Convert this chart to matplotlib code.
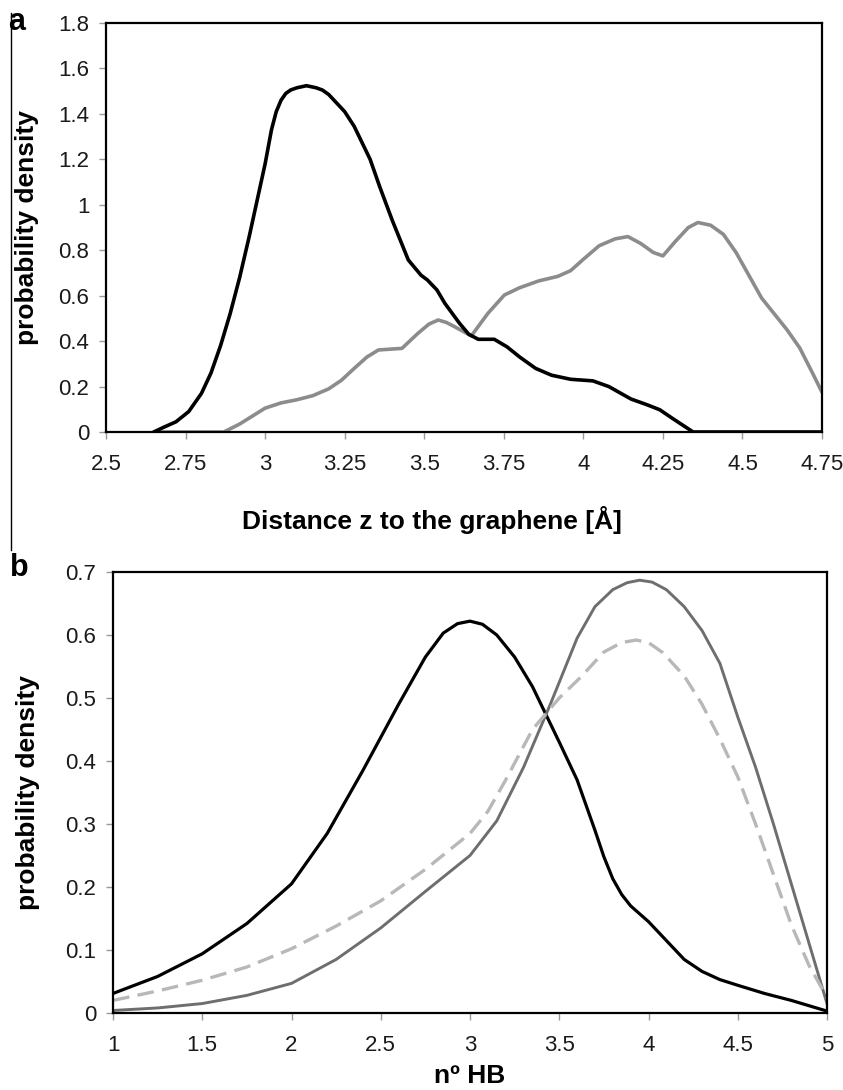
import matplotlib
matplotlib.use("Agg")
import matplotlib.pyplot as plt
from matplotlib.lines import Line2D

plt.rcParams['font.family'] = ['Liberation Sans', 'DejaVu Sans']

# ---- Panel a data ----
z_black = [2.65, 2.68, 2.72, 2.76, 2.80, 2.83, 2.86, 2.89, 2.92, 2.95, 2.975, 3.0, 3.02, 3.035,
           3.05, 3.065, 3.08, 3.10, 3.13, 3.16, 3.18, 3.20, 3.22, 3.25, 3.28, 3.33, 3.36, 3.40,
           3.45, 3.49, 3.51, 3.54, 3.565, 3.61, 3.64, 3.67, 3.72, 3.76, 3.80, 3.85, 3.90, 3.96,
           4.03, 4.08, 4.15, 4.20, 4.24, 4.28, 4.345, 4.75]
p_black = [0.0, 0.02, 0.045, 0.09, 0.17, 0.26, 0.38, 0.52, 0.68, 0.86, 1.02, 1.18, 1.33, 1.41,
           1.46, 1.49, 1.505, 1.515, 1.524, 1.515, 1.505, 1.485, 1.455, 1.41, 1.345, 1.2, 1.08, 0.93,
           0.757, 0.69, 0.669, 0.625, 0.566, 0.48, 0.43, 0.408, 0.408, 0.375, 0.33, 0.28, 0.25, 0.232,
           0.225, 0.2, 0.145, 0.12, 0.098, 0.06, 0.0, 0.0]

z_gray = [2.65, 2.87, 2.92, 2.96, 3.0, 3.05, 3.10, 3.15, 3.20, 3.24, 3.28, 3.32, 3.356, 3.43,
          3.48, 3.515, 3.544, 3.57, 3.596, 3.648, 3.70, 3.752, 3.80, 3.86, 3.92, 3.96, 4.0, 4.05,
          4.10, 4.14, 4.18, 4.22, 4.25, 4.29, 4.33, 4.36, 4.40, 4.44, 4.48, 4.52, 4.56, 4.60,
          4.64, 4.68, 4.72, 4.75]
p_gray = [0.0, 0.0, 0.035, 0.07, 0.105, 0.128, 0.142, 0.16, 0.19, 0.228, 0.28, 0.33, 0.361, 0.368,
          0.434, 0.475, 0.493, 0.482, 0.463, 0.423, 0.522, 0.603, 0.635, 0.665, 0.685, 0.71, 0.76, 0.82,
          0.85, 0.86, 0.83, 0.79, 0.775, 0.84, 0.9, 0.922, 0.91, 0.87, 0.79, 0.69, 0.59, 0.52,
          0.45, 0.37, 0.26, 0.175]

a_xticks = [2.5, 2.75, 3, 3.25, 3.5, 3.75, 4, 4.25, 4.5, 4.75]
a_xticklabels = ['2.5', '2.75', '3', '3.25', '3.5', '3.75', '4', '4.25', '4.5', '4.75']
a_yticks = [0, 0.2, 0.4, 0.6, 0.8, 1.0, 1.2, 1.4, 1.6, 1.8]
a_yticklabels = ['0', '0.2', '0.4', '0.6', '0.8', '1', '1.2', '1.4', '1.6', '1.8']

# ---- Panel b data ----
hb_black = [1.0, 1.25, 1.5, 1.75, 2.0, 2.2, 2.4, 2.6, 2.75, 2.85, 2.93, 3.0, 3.07, 3.15, 3.25,
            3.35, 3.5, 3.6, 3.7, 3.75, 3.8, 3.85, 3.9, 4.0, 4.1, 4.2, 4.3, 4.4, 4.5, 4.65, 4.8, 5.0]
pb_black = [0.031, 0.058, 0.094, 0.142, 0.205, 0.285, 0.385, 0.49, 0.565, 0.603, 0.618, 0.622,
            0.617, 0.6, 0.565, 0.518, 0.43, 0.37, 0.29, 0.248, 0.213, 0.188, 0.17, 0.145, 0.115,
            0.085, 0.066, 0.053, 0.044, 0.031, 0.02, 0.003]

hb_solid = [1.0, 1.25, 1.5, 1.75, 2.0, 2.25, 2.5, 2.75, 3.0, 3.15, 3.3, 3.45, 3.6, 3.7, 3.8,
            3.88, 3.95, 4.02, 4.1, 4.2, 4.3, 4.4, 4.5, 4.6, 4.7, 4.8, 4.9, 5.0]
pb_solid = [0.004, 0.008, 0.015, 0.028, 0.047, 0.085, 0.135, 0.193, 0.25, 0.305, 0.39, 0.49,
            0.595, 0.645, 0.672, 0.683, 0.687, 0.684, 0.672, 0.645, 0.607, 0.555, 0.47, 0.39,
            0.3, 0.205, 0.11, 0.015]

hb_dash = [1.0, 1.25, 1.5, 1.75, 2.0, 2.25, 2.5, 2.75, 3.0, 3.1, 3.2, 3.35, 3.5, 3.62, 3.75,
           3.85, 3.93, 4.0, 4.08, 4.2, 4.3, 4.4, 4.5, 4.6, 4.7, 4.8, 4.9, 5.0]
pb_dash = [0.02, 0.035, 0.052, 0.073, 0.102, 0.138, 0.178, 0.228, 0.285, 0.32, 0.37, 0.45, 0.5,
           0.533, 0.573, 0.588, 0.592, 0.588, 0.572, 0.535, 0.49, 0.435, 0.375, 0.3, 0.22, 0.14,
           0.075, 0.025]

b_xticks = [1, 1.5, 2, 2.5, 3, 3.5, 4, 4.5, 5]
b_xticklabels = ['1', '1.5', '2', '2.5', '3', '3.5', '4', '4.5', '5']
b_yticks = [0, 0.1, 0.2, 0.3, 0.4, 0.5, 0.6, 0.7]
b_yticklabels = ['0', '0.1', '0.2', '0.3', '0.4', '0.5', '0.6', '0.7']

W, H = 843, 1090
fig = plt.figure(figsize=(W / 100, H / 100), dpi=100)

def px_axes(l, t, r, b):
    return fig.add_axes([l / W, 1 - b / H, (r - l) / W, (b - t) / H])

TICK_FS = 16
LABEL_FS = 19

def style(ax):
    for s in ax.spines.values():
        s.set_linewidth(1.6)
        s.set_color('black')
    ax.tick_params(axis='both', direction='out', length=5, width=1, color='#999999',
                   labelsize=TICK_FS, labelcolor='#1a1a1a')
    ax.tick_params(axis='x', pad=11)
    ax.tick_params(axis='y', pad=7)

# Panel a
ax1 = px_axes(106, 23, 822, 432)
ax1.plot(z_gray, p_gray, color='#8c8c8c', lw=2.6, solid_joinstyle='round', solid_capstyle='round')
ax1.plot(z_black, p_black, color='black', lw=2.6, solid_joinstyle='round', solid_capstyle='round')
ax1.set_xlim(2.5, 4.75)
ax1.set_ylim(0, 1.8)
ax1.set_xticks(a_xticks)
ax1.set_xticklabels(a_xticklabels)
ax1.set_yticks(a_yticks)
ax1.set_yticklabels(a_yticklabels)
style(ax1)
ax1.set_ylabel('probability density', fontsize=LABEL_FS, fontweight='bold')
ax1.yaxis.set_label_coords(-0.093, 0.5)
ax1.set_xlabel('Distance z to the graphene [Å]', fontsize=LABEL_FS, fontweight='bold')
ax1.xaxis.set_label_coords(0.455, -0.18)

# Panel b
ax2 = px_axes(113, 572, 827, 1013)
ax2.plot(hb_black, pb_black, color='black', lw=2.3, solid_joinstyle='round')
ax2.plot(hb_solid, pb_solid, color='#6e6e6e', lw=2.1, solid_joinstyle='round')
ax2.plot(hb_dash, pb_dash, color='#b8b8b8', lw=2.4, linestyle=(0, (5, 2.5)))
ax2.set_xlim(1, 5)
ax2.set_ylim(0, 0.7)
ax2.set_xticks(b_xticks)
ax2.set_xticklabels(b_xticklabels)
ax2.set_yticks(b_yticks)
ax2.set_yticklabels(b_yticklabels)
style(ax2)
ax2.set_ylabel('probability density', fontsize=LABEL_FS, fontweight='bold')
ax2.yaxis.set_label_coords(-0.102, 0.5)
ax2.set_xlabel('nº HB', fontsize=LABEL_FS, fontweight='bold')
ax2.xaxis.set_label_coords(0.5, -0.115)

# Panel letters
fig.text(17 / W, 1 - 22 / H, 'a', fontsize=22, fontweight='bold', ha='center', va='center')
fig.text(19 / W, 1 - 568 / H, 'b', fontsize=22, fontweight='bold', ha='center', va='center')

# thin frame line at left of panel a
fig.add_artist(Line2D([11 / W, 11 / W], [1 - 13 / H, 1 - 550 / H], color='black', lw=1,
                      transform=fig.transFigure))

fig.savefig('out.png', dpi=100, facecolor='white')
